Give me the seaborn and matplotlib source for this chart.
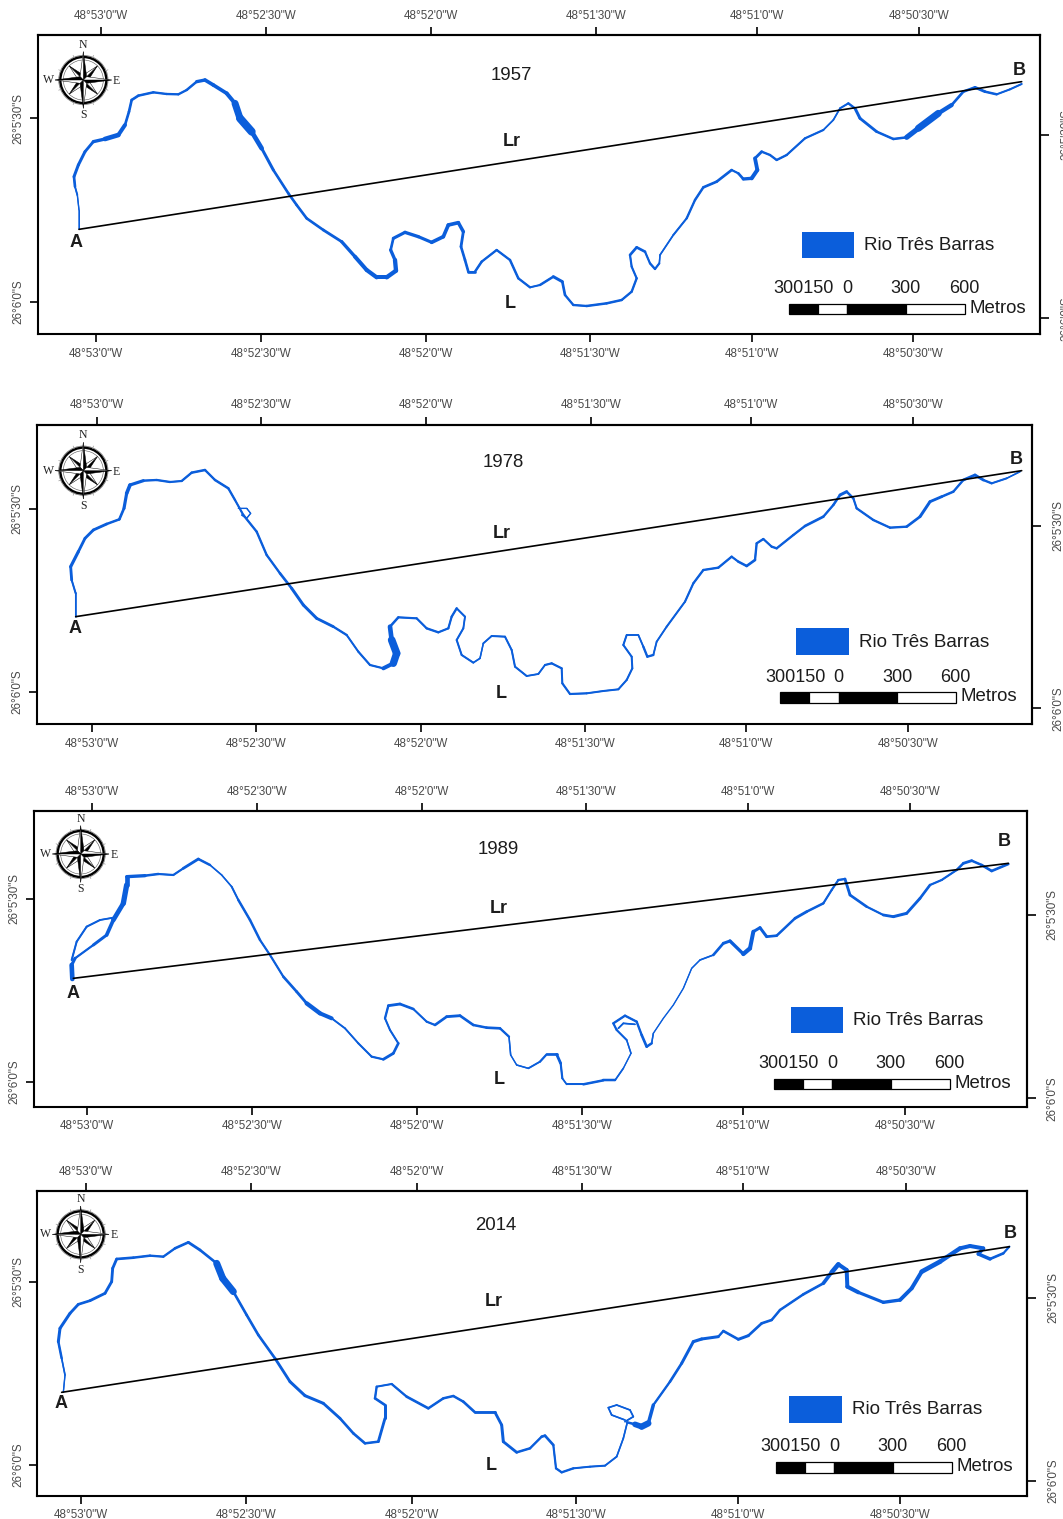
import numpy as np
import pandas as pd
import matplotlib
matplotlib.use('Agg')
import matplotlib.pyplot as plt
from matplotlib.collections import LineCollection
from matplotlib.patches import Rectangle, Circle
import seaborn as sns

W, H = 1063, 1519
BLUE = '#0b5edb'
TXT = '#1c1c1c'
GREY = '#4a4a4a'

years = ['1957', '1978', '1989', '2014']
lon_labels = ['48°53\'0"W', '48°52\'30"W', '48°52\'0"W', '48°51\'30"W', '48°51\'0"W', '48°50\'30"W']
lat_labels = ['26°5\'30"S', '26°6\'0"S']
scale_metres = [-300, -150, 0, 300, 600]

# river: map x, map y, channel width (map units = 1/3 px of the sheet)
river_1957 = [(147,597,3),(147,540,3),(142,495,4),(135,470,7),(132,440,9),(145,405,9),(165,365,9),(190,335,8),(225,327,12),(265,315,16),(285,285,8),(297,245,8),(305,210,8),(325,197,8),(370,187,7),(410,192,7),(445,193,7),(470,180,7),(500,155,8),(525,150,12),(550,165,10),(590,190,12),(615,220,12),(630,265,30),(665,305,18),(695,355,10),(730,420,8),(775,490,8),(800,525,8),(830,565,8),(880,600,8),(935,635,9),(975,680,11),(1010,720,13),(1040,742,12),(1070,742,12),(1098,722,14),(1095,690,12),(1082,660,8),(1090,625,8),(1125,607,11),(1165,620,9),(1205,637,10),(1240,620,12),(1255,585,10),(1285,578,12),(1300,605,9),(1293,650,8),(1305,690,8),(1315,725,8),(1335,725,8),(1355,695,7),(1400,660,7),(1440,690,7),(1465,745,8),(1500,772,6),(1530,765,6),
    (1570,740,9),(1597,755,9),(1605,795,7),(1630,825,7),(1670,828,7),(1730,820,8),(1775,810,7),(1805,785,7),(1820,745,7),(1805,710,6),(1800,675,7),(1820,652,9),(1845,665,7),(1860,700,6),(1875,717,8),(1888,700,5),(1890,675,4),(1930,615,6),(1970,565,6),(1995,510,8),(2020,472,7),(2060,455,9),(2105,420,7),(2125,430,6),(2140,447,10),(2165,445,10),(2182,420,14),(2175,385,9),(2195,365,8),(2220,375,6),(2240,390,8),(2270,375,6),(2325,325,7),(2380,300,6),(2410,270,4),(2430,235,6),(2455,220,6),(2475,235,8),(2490,265,10),(2540,305,7),(2590,327,8),(2630,322,7),(2665,295,24),(2725,250,18),(2765,225,8),(2800,185,8),(2835,172,8),(2865,185,9),(2900,193,6),(2940,178,6),(2975,162,6)]

river_1978 = [(137,590,4),(137,520,5),(125,480,7),(122,440,10),(145,395,9),(165,355,8),(190,330,9),(230,312,8),(268,298,7),(282,265,9),(290,220,10),(300,195,12),(340,182,7),(380,180,7),(420,186,7),(455,183,6),(485,158,8),(525,150,7),(555,180,7),(595,205,8),(615,240,6),(640,285,7),(680,335,7),(710,405,7),(750,460,7),(785,505,9),(820,555,9),(860,595,9),(910,620,8),(950,645,6),(985,695,6),(1020,735,7),(1060,745,6),(1090,730,18),(1100,700,26),(1085,660,20),(1080,620,8),(1105,592,7),(1160,595,6),(1190,625,7),(1225,637,7),(1255,625,6),(1265,590,7),(1280,565,7),(1305,590,5),(1300,625,6),(1280,660,6),(1295,705,6),(1330,728,6),(1350,715,4),(1360,670,5),(1385,648,6),(1425,650,6),(1445,690,6),(1455,740,6),(1490,768,6),(1525,762,5),
    (1545,735,6),(1565,730,7),(1595,745,6),(1597,790,6),(1620,822,7),(1670,820,6),(1720,813,6),(1765,808,6),(1790,780,6),(1807,745,6),(1805,710,6),(1780,675,6),(1790,645,6),(1825,645,5),(1840,680,6),(1852,710,8),(1870,705,6),(1880,665,5),(1910,620,6),(1965,545,6),(1990,490,7),(2020,450,7),(2065,443,7),(2105,410,7),(2125,425,6),(2150,438,9),(2175,420,7),(2180,370,7),(2200,357,7),(2225,380,6),(2240,385,8),(2290,345,6),(2325,318,8),(2380,290,8),(2410,255,6),(2430,225,9),(2450,215,9),(2470,235,6),(2480,265,7),(2530,300,7),(2580,323,7),(2630,320,7),(2670,290,9),(2700,245,9),(2735,230,8),(2770,215,7),(2800,180,7),(2835,165,10),(2860,180,7),(2885,190,7),(2930,175,5),(2970,155,4)]

river_1989 = [(127,522,14),(125,480,14),(135,460,5),(190,420,8),(230,390,10),(250,345,12),(280,295,16),(290,240,16),(290,215,12),(345,212,8),(385,207,7),(430,210,6),(460,190,7),(505,162,10),(540,180,5),(575,210,4),(605,245,5),(625,285,7),(660,345,8),(690,405,7),(720,450,6),(760,515,7),(800,560,9),(830,595,8),(870,625,18),(905,640,6),(945,670,5),(985,715,6),(1025,755,6),(1060,763,7),(1090,745,10),(1105,715,6),(1080,675,6),(1065,640,6),(1075,602,8),(1110,597,9),(1150,612,7),(1190,650,5),(1215,660,8),(1250,635,8),(1290,632,9),(1330,660,7),(1370,668,8),(1410,670,8),(1437,695,6),(1442,750,3),(1460,780,4),(1495,790,5),(1530,770,6),
    (1550,748,7),(1580,748,9),(1592,775,8),(1597,820,5),(1610,838,5),(1660,838,7),(1720,826,8),(1755,826,7),(1780,790,3),(1803,745,3),(1790,705,6),(1760,675,6),(1750,655,7),(1785,632,7),(1820,650,7),(1835,690,7),(1850,725,9),(1865,715,6),(1870,685,3),(1900,640,2),(1930,600,2),(1960,550,3),(1985,490,3),(2010,465,4),(2050,450,6),(2080,415,10),(2100,408,8),(2140,447,12),(2160,430,14),(2170,380,10),(2190,368,8),(2210,395,10),(2240,392,6),(2295,340,9),(2330,320,8),(2380,295,7),(2405,255,6),(2425,225,7),(2445,222,7),(2460,270,10),(2510,305,6),(2560,330,7),(2590,335,10),(2630,325,8),(2670,280,9),(2700,240,7),(2735,225,6),(2780,195,7),(2800,175,8),(2825,167,9),(2855,180,6),(2885,198,10),(2935,177,6)]

river_2014 = [(100,622,3),(105,570,4),(95,520,6),(85,470,9),(90,430,9),(120,385,9),(145,358,8),(180,347,8),(225,325,9),(245,290,8),(248,250,9),(260,222,8),(310,218,8),(360,212,7),(400,215,7),(435,190,7),(475,172,9),(510,195,8),(560,235,8),(578,280,34),(610,320,8),(650,390,8),(685,450,8),(735,520,8),(780,590,9),(825,632,9),(880,655,9),(930,700,8),(970,745,8),(1005,775,8),(1045,770,7),(1065,700,10),(1065,660,8),(1035,640,8),(1040,605,6),(1085,597,6),(1130,635,8),(1195,670,8),(1240,640,7),(1270,633,8),(1300,650,7),(1335,682,9),(1395,682,8),(1415,720,9),(1420,770,9),(1460,802,8),(1500,790,7),(1535,755,7),
    (1545,752,9),(1570,780,7),(1578,850,6),(1595,862,8),(1630,850,6),(1680,845,6),(1725,842,6),(1760,815,5),(1780,760,5),(1792,712,5),(1815,718,10),(1835,725,24),(1855,715,14),(1870,660,7),(1920,590,7),(1955,535,9),(1990,470,9),(2015,462,10),(2065,455,8),(2080,438,6),(2125,463,10),(2155,452,8),(2195,415,8),(2225,405,8),(2250,375,7),(2320,328,8),(2380,295,8),(2405,262,14),(2425,238,14),(2450,255,10),(2452,305,14),(2485,322,10),(2560,352,9),(2610,345,11),(2645,310,12),(2675,260,12),(2730,230,16),(2790,190,10),(2820,183,14),(2860,190,10),(2845,207,12),(2880,222,9),(2920,205,7),(2938,185,6)]

# side channels and cut-off loops
side_1957 = []
side_1978 = [[(625,265,3),(650,265,3),(662,280,3),(650,295,3),(635,285,3)]]
side_1989 = [[(125,465,6),(140,410,6),(170,365,6),(210,345,6),(250,338,5)],
             [(1765,670,5),(1780,655,5),(1815,658,5)]]
side_2014 = [[(1785,710,5),(1810,695,5),(1800,675,5),(1760,660,5),(1735,668,5),(1745,690,5),(1785,705,5)]]

chords = [((147,598),(2975,155)), ((137,590),(2975,152)), ((130,520),(2935,175)), ((95,622),(2938,185))]

# frame: left, right, top, bottom, sheet y of map origin
frames = [(23,3030,15,913,30), (20,3007,14,913,420), (12,2990,18,905,805), (22,2992,18,932,1185)]
ticks_top = [[213,707,1202,1697,2180,2667], [200,693,1188,1682,2163,2648], [187,680,1177,1668,2153,2640], [167,662,1160,1655,2138,2627]]
ticks_bottom = [[197,692,1187,1680,2165,2650], [185,678,1172,1665,2148,2633], [172,665,1160,1655,2138,2625], [152,648,1145,1637,2125,2610]]
ticks_left = [[265,815], [267,815], [282,830], [290,840]]
ticks_right = [[315,865], [318,865], [330,880], [338,888]]

compass_xy = [(160,150), (160,152), (152,147), (152,148)]
label_A = [(138,637), (135,625), (130,565), (93,657)]
label_B = [(2968,122), (2960,118), (2923,110), (2940,145)]
label_Lr = [(1445,335), (1415,342), (1405,310), (1390,350)]
label_L = [(1440,822), (1415,822), (1408,825), (1385,840)]
label_year = [(1445,135), (1420,127), (1405,132), (1398,122)]
# legend patch: x0, x1, y0, y1
legend_box = [(2315,2473,605,685), (2297,2457,625,705), (2282,2440,605,685), (2277,2435,632,713)]
scale_zero = [2452, 2426, 2407, 2413]
scale_bar_y = [(823,853), (817,849), (822,853), (832,863)]
scale_text_y = [775, 773, 776, 785]
UNIT_PER_M = 0.588

sns.set_theme(style='white')
plt.rcParams['font.family'] = ['Liberation Sans', 'DejaVu Sans']


def draw_river(ax, pts):
    df = pd.DataFrame(pts, columns=['x', 'y', 'w'])
    sns.lineplot(data=df, x='x', y='y', sort=False, estimator=None, color=BLUE, lw=1.0, ax=ax, legend=False)
    xy = df[['x', 'y']].values
    segs = np.stack([xy[:-1], xy[1:]], axis=1)
    lw = (df['w'].values[:-1] + df['w'].values[1:]) / 2 * 0.24
    ax.add_collection(LineCollection(segs, linewidths=lw, colors=BLUE, capstyle='round', zorder=3))


def draw_compass(ax, cx, cy):
    # ring
    ax.add_patch(Circle((cx, cy), 74, fc='none', ec='#777777', lw=0.5, zorder=4))
    ax.add_patch(Circle((cx, cy), 69, fc='white', ec='black', lw=1.7, zorder=4))
    ax.add_patch(Circle((cx, cy), 60, fc='none', ec='#555555', lw=0.4, zorder=4))
    for a in np.arange(0, 360, 45) + 22.5:
        r = np.radians(a)
        ax.plot([cx + 72*np.sin(r), cx + 80*np.sin(r)], [cy - 72*np.cos(r), cy - 80*np.cos(r)], color='#999999', lw=0.5, zorder=4)
    for step, length, base in [(45, 60, 15), (0, 85, 14)]:
        for a in np.arange(0, 360, 90) + step:
            r = np.radians(a)
            tip = (cx + length*np.sin(r), cy - length*np.cos(r))
            for side, col in [(1, 'black'), (-1, 'white')]:
                rs = r + side * np.pi / 4
                mid = (cx + base*np.sin(rs), cy - base*np.cos(rs))
                ax.fill([cx, tip[0], mid[0]], [cy, tip[1], mid[1]], fc=col, ec='black', lw=0.35, zorder=5)
    for s, dx, dy in [('N', 0, -106), ('S', 0, 106), ('W', -104, 0), ('E', 100, 3)]:
        ax.text(cx + dx, cy + dy, s, family=['Liberation Serif'], fontsize=8.5, color='#222222', ha='center', va='center')


fig = plt.figure(figsize=(W / 100, H / 100), dpi=100, facecolor='white')
rivers = [river_1957, river_1978, river_1989, river_2014]
sides = [side_1957, side_1978, side_1989, side_2014]

for i, year in enumerate(years):
    x0, x1, y0, y1, oy = frames[i]
    ax = fig.add_axes([(30 + x0/3) / W, 1 - (oy + y1/3) / H, (x1 - x0) / 3 / W, (y1 - y0) / 3 / H])

    draw_river(ax, rivers[i])
    for pts in sides[i]:
        draw_river(ax, pts)

    (ax_, ay_), (bx_, by_) = chords[i]
    sns.lineplot(x=[ax_, bx_], y=[ay_, by_], sort=False, estimator=None, color='black', lw=1.2, ax=ax, legend=False, zorder=6)

    ax.set_xlim(x0, x1)
    ax.set_ylim(y1, y0)
    ax.set_xlabel('')
    ax.set_ylabel('')

    # four sides carry their own graticule ticks
    ax.set_xticks(ticks_bottom[i], lon_labels)
    ax.set_yticks(ticks_left[i], lat_labels, rotation=90, va='center')
    top = ax.secondary_xaxis('top')
    top.set_xticks(ticks_top[i], lon_labels)
    right = ax.secondary_yaxis('right')
    right.set_yticks(ticks_right[i], lat_labels, rotation=90, va='center')
    ax.tick_params(axis='both', length=5.5, width=1.2, color='black', labelsize=8.4, labelcolor=GREY, pad=4, bottom=True, left=True)
    top.tick_params(length=5.5, width=1.2, color='black', labelsize=8.4, labelcolor=GREY, pad=4)
    right.tick_params(length=6.5, width=1.2, color='black', labelsize=8.4, labelcolor=GREY, pad=8)
    for sp in list(ax.spines.values()) + [top.spines['top'], right.spines['right']]:
        sp.set_visible(True)
        sp.set_color('black')
        sp.set_linewidth(1.5)

    draw_compass(ax, *compass_xy[i])

    ax.text(*label_year[i], year, fontsize=13.4, color=TXT, ha='center', va='center')
    for pos, s in [(label_A[i], 'A'), (label_B[i], 'B'), (label_Lr[i], 'Lr'), (label_L[i], 'L')]:
        ax.text(*pos, s, fontsize=13, fontweight='bold', color=TXT, ha='center', va='center')

    # legend
    lx0, lx1, ly0, ly1 = legend_box[i]
    ax.add_patch(Rectangle((lx0, ly0), lx1 - lx0, ly1 - ly0, fc=BLUE, ec='none'))
    ax.text(lx1 + 30, (ly0 + ly1) / 2 + 2, 'Rio Três Barras', fontsize=13.6, color=TXT, ha='left', va='center')

    # scale bar
    z = scale_zero[i]
    by0, by1 = scale_bar_y[i]
    for m0, m1, col in zip(scale_metres[:-1], scale_metres[1:], ['black', 'white', 'black', 'white']):
        ax.add_patch(Rectangle((z + m0*UNIT_PER_M, by0), (m1 - m0)*UNIT_PER_M, by1 - by0, fc=col, ec='black', lw=0.9))
    ty = scale_text_y[i]
    ax.text(z - 130, ty, '300150', fontsize=13, color=TXT, ha='center', va='center')
    ax.text(z, ty, '0', fontsize=13, color=TXT, ha='center', va='center')
    ax.text(z + 300*UNIT_PER_M - 1, ty, '300', fontsize=13, color=TXT, ha='center', va='center')
    ax.text(z + 600*UNIT_PER_M - 3, ty, '600', fontsize=13, color=TXT, ha='center', va='center')
    ax.text(z + 600*UNIT_PER_M + 13, (by0 + by1) / 2 - 3, 'Metros', fontsize=13.4, color=TXT, ha='left', va='center')

fig.savefig('out.png', dpi=100, facecolor='white')
